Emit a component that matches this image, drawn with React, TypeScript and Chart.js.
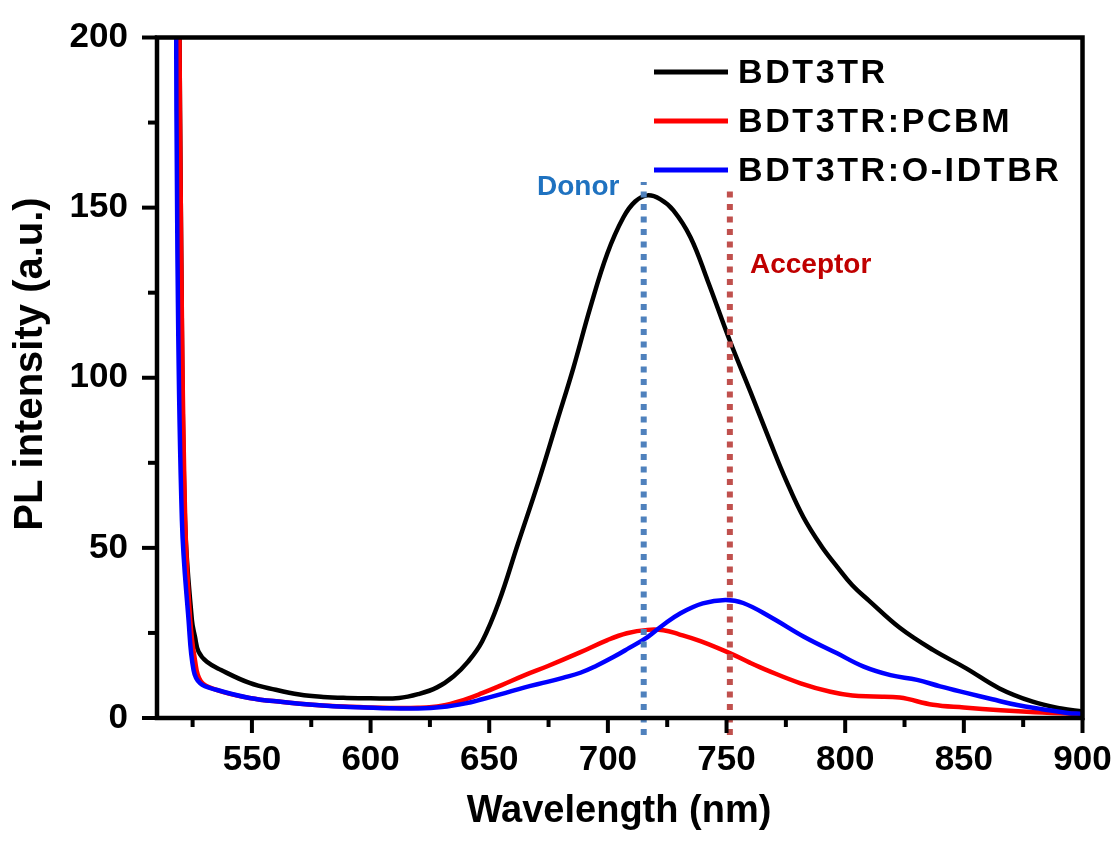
import { useEffect, useRef } from "react";
import { Chart, registerables } from "chart.js";

Chart.register(...registerables);

// ---- data ----
const SERIES_LABELS = ["BDT3TR", "BDT3TR:PCBM", "BDT3TR:O-IDTBR"];
const SERIES_COLORS = ["#000000", "#FF0000", "#0000FF"];

const BDT3TR_X = [519.3, 520.2, 521.8, 524.7, 526, 527.5, 531, 537, 549, 560, 570, 580, 590, 600, 612, 620, 628, 635, 641, 647, 654, 662, 671, 678.7, 685.5, 692.6, 699.8, 706.5, 711.5, 716.7, 722, 727.6, 734.8, 742, 751.6, 760, 768.5, 775, 782.4, 790, 796.8, 803, 810, 823, 837, 851, 865, 879, 891, 900];
const BDT3TR_Y = [220, 137, 58, 28.8, 23.9, 19.5, 16.5, 14.1, 10.3, 8.3, 6.9, 6.2, 5.9, 5.8, 5.9, 7.0, 9.0, 12.3, 16.5, 22.5, 34, 51, 70, 87.5, 103, 120.7, 136.6, 147.1, 151.8, 153.6, 152.5, 149.2, 141.3, 128.6, 110.5, 96, 81, 70, 59, 50.5, 44.3, 39, 34.5, 26.5, 20, 14.6, 8.7, 4.8, 2.8, 1.9];

const PCBM_X = [519.3, 520.2, 521.9, 524, 526, 528.5, 535, 549, 563, 577, 591, 605, 620, 630, 640, 647, 655, 665, 674.5, 688, 699.8, 708, 716.7, 723.4, 730, 739, 751.6, 760, 767.2, 781.2, 793.8, 803, 812, 823, 837, 850, 865.5, 880, 893.6, 900];
const PCBM_Y = [220, 137, 58, 28.8, 17, 10.8, 8.3, 5.9, 4.7, 3.8, 3.3, 3.0, 3.0, 3.6, 5.5, 7.3, 9.6, 12.6, 15.2, 19.2, 22.9, 24.9, 25.9, 25.8, 24.6, 22.6, 19, 16.2, 14, 10.2, 7.7, 6.6, 6.3, 6.0, 3.9, 3.1, 2.3, 1.7, 1.3, 1];

const IDTBR_X = [518, 518.6, 520.5, 523.3, 525.4, 528.2, 535, 549, 563, 577, 591, 605, 620, 630, 640, 647, 655, 665, 674.5, 681, 688.4, 695, 702.3, 709, 716.7, 723, 730.6, 740, 749.5, 757, 768.5, 782.6, 796.6, 807.8, 819.1, 830.3, 840, 851.4, 862, 872.5, 883, 893.6, 900];
const IDTBR_Y = [220, 137, 58, 28.8, 14.1, 10.2, 8.3, 5.9, 4.7, 3.8, 3.2, 2.9, 2.8, 3.2, 4.3, 5.5, 7.0, 9.0, 10.6, 11.8, 13.3, 15.3, 17.9, 20.6, 23.8, 27.2, 30.8, 33.7, 34.7, 33.8, 29.7, 23.9, 19, 15.1, 12.6, 11.2, 9.3, 7.3, 5.5, 3.8, 2.6, 1.5, 1.2];

const DONOR_X = 715.1;
const DONOR_Y = [-5, 157.5];
const ACCEPTOR_X = 751.4;
const ACCEPTOR_Y = [-5, 155.5];

const X_MAJOR = [550, 600, 650, 700, 750, 800, 850, 900];
const X_MINOR = [525, 575, 625, 675, 725, 775, 825, 875];
const Y_MAJOR = [0, 50, 100, 150, 200];
const Y_MINOR = [25, 75, 125, 175];

const X_TITLE = "Wavelength (nm)";
const Y_TITLE = "PL intensity (a.u.)";
const DONOR_LABEL = "Donor";
const ACCEPTOR_LABEL = "Acceptor";

const FONT = '"Liberation Sans", Arial, sans-serif';

const toPoints = (xs: number[], ys: number[]) => xs.map((x, i) => ({ x, y: ys[i] }));

const decorPlugin = {
  id: "decor",
  afterDraw(chart: any) {
    const ctx: CanvasRenderingContext2D = chart.ctx;
    const a = chart.chartArea;
    const xs = chart.scales.x;
    const ys = chart.scales.y;
    ctx.save();
    // frame
    ctx.strokeStyle = "#000";
    ctx.lineWidth = 4.5;
    ctx.strokeRect(a.left, a.top, a.right - a.left, a.bottom - a.top);
    // ticks
    ctx.lineWidth = 4;
    ctx.lineCap = "butt";
    const xt = (v: number, len: number) => {
      const p = xs.getPixelForValue(v);
      ctx.beginPath();
      ctx.moveTo(p, a.bottom);
      ctx.lineTo(p, a.bottom + len);
      ctx.stroke();
    };
    const yt = (v: number, len: number) => {
      const p = ys.getPixelForValue(v);
      ctx.beginPath();
      ctx.moveTo(a.left, p);
      ctx.lineTo(a.left - len, p);
      ctx.stroke();
    };
    X_MAJOR.forEach((v) => xt(v, 15));
    X_MINOR.forEach((v) => xt(v, 9));
    Y_MAJOR.forEach((v) => yt(v, 15));
    Y_MINOR.forEach((v) => yt(v, 9));

    // legend
    const rows = [72, 121, 170];
    SERIES_LABELS.forEach((lab, i) => {
      ctx.strokeStyle = SERIES_COLORS[i];
      ctx.lineWidth = 5;
      ctx.beginPath();
      ctx.moveTo(654, rows[i]);
      ctx.lineTo(728, rows[i]);
      ctx.stroke();
      ctx.fillStyle = "#000";
      ctx.font = `bold 34px ${FONT}`;
      (ctx as any).letterSpacing = "2.6px";
      ctx.textAlign = "left";
      ctx.textBaseline = "alphabetic";
      ctx.fillText(lab, 738, rows[i] + 11);
      (ctx as any).letterSpacing = "0px";
    });

    // annotations
    ctx.font = `bold 28px ${FONT}`;
    ctx.textAlign = "left";
    ctx.textBaseline = "alphabetic";
    ctx.fillStyle = "#1F72C0";
    ctx.fillText(DONOR_LABEL, 537, 195);
    ctx.fillStyle = "#C00000";
    ctx.fillText(ACCEPTOR_LABEL, 750, 273);

    // axis titles
    ctx.fillStyle = "#000";
    ctx.font = `bold 38px ${FONT}`;
    ctx.textAlign = "center";
    ctx.fillText(X_TITLE, 619, 822);
    ctx.translate(42, 364);
    ctx.rotate(-Math.PI / 2);
    ctx.font = `bold 40px ${FONT}`;
    ctx.fillText(Y_TITLE, 0, 0);
    ctx.restore();
  },
};

export default function App() {
  const ref = useRef<HTMLCanvasElement | null>(null);
  useEffect(() => {
    document.body.style.margin = "0";
    const canvas = ref.current!;
    const tickFont = { family: FONT, size: 35, weight: "bold" as const };
    const curve = (i: number, xs: number[], ys: number[]) => ({
      label: SERIES_LABELS[i],
      data: toPoints(xs, ys),
      borderColor: SERIES_COLORS[i],
      borderWidth: 4.5,
      pointRadius: 0,
      tension: 0.4,
      borderJoinStyle: "round" as const,
    });
    const marker = (label: string, x: number, ys: number[], color: string) => ({
      label,
      data: [{ x, y: ys[0] }, { x, y: ys[1] }],
      borderColor: color,
      borderWidth: 6,
      borderDash: [6, 6.5],
      borderCapStyle: "butt" as const,
      pointRadius: 0,
      tension: 0,
      clip: false as any,
    });
    const chart = new Chart(canvas, {
      type: "line",
      data: {
        datasets: [
          marker(DONOR_LABEL, DONOR_X, DONOR_Y, "#4F81BD"),
          marker(ACCEPTOR_LABEL, ACCEPTOR_X, ACCEPTOR_Y, "#C0504D"),
          curve(2, IDTBR_X, IDTBR_Y),
          curve(1, PCBM_X, PCBM_Y),
          curve(0, BDT3TR_X, BDT3TR_Y),
        ] as any,
      },
      options: {
        animation: false,
        responsive: false,
        maintainAspectRatio: false,
        layout: { padding: { top: 37.5, right: 32.5, left: 0, bottom: 0 } },
        plugins: { legend: { display: false }, tooltip: { enabled: false } },
        scales: {
          x: {
            type: "linear",
            min: 510,
            max: 900,
            grid: { display: false, drawTicks: false },
            border: { display: false },
            afterBuildTicks: (s: any) => {
              s.ticks = X_MAJOR.map((v) => ({ value: v }));
            },
            afterFit: (s: any) => {
              s.height = 125;
              s.paddingLeft = 0;
              s.paddingRight = 0;
            },
            ticks: { padding: 21, font: tickFont, color: "#000", maxRotation: 0, autoSkip: false },
          },
          y: {
            type: "linear",
            min: 0,
            max: 200,
            grid: { display: false, drawTicks: false },
            border: { display: false },
            afterBuildTicks: (s: any) => {
              s.ticks = Y_MAJOR.map((v) => ({ value: v }));
            },
            afterFit: (s: any) => {
              s.width = 157;
              s.paddingTop = 0;
              s.paddingBottom = 0;
            },
            ticks: { padding: 29, font: tickFont, color: "#000", autoSkip: false },
          },
        },
      },
      plugins: [decorPlugin],
    });
    return () => chart.destroy();
  }, []);
  return (
    <div style={{ width: 1115, height: 843, position: "relative", background: "#fff" }}>
      <canvas ref={ref} width={1115} height={843} />
    </div>
  );
}
